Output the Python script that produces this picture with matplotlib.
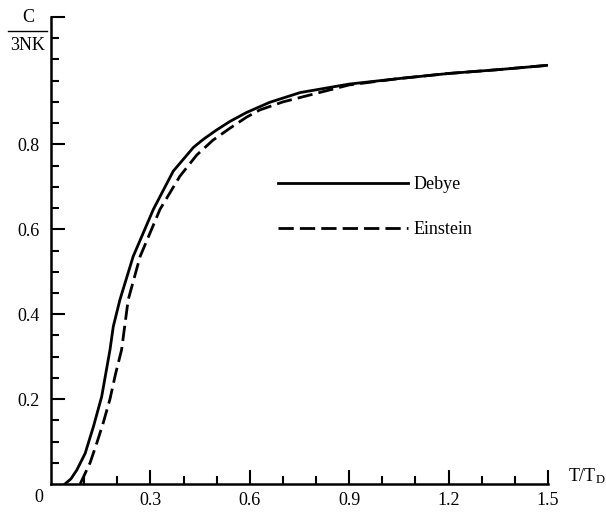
import matplotlib
matplotlib.use("Agg")
import matplotlib.pyplot as plt
from matplotlib.lines import Line2D
import numpy as np

plt.rcParams['font.family'] = ['Liberation Serif', 'DejaVu Serif']
plt.rcParams['mathtext.fontset'] = 'stix'

# Data
debye_t = [0.042, 0.06, 0.078, 0.103, 0.128, 0.153, 0.178, 0.188, 0.208, 0.248,
           0.309, 0.369, 0.43, 0.46, 0.5, 0.54, 0.59, 0.66, 0.752, 0.9, 1.05, 1.2, 1.35, 1.496]
debye_c = [0.0, 0.012, 0.033, 0.072, 0.135, 0.206, 0.316, 0.371, 0.434, 0.536,
           0.647, 0.737, 0.793, 0.812, 0.834, 0.854, 0.875, 0.899, 0.922, 0.942, 0.955, 0.967, 0.976, 0.986]

einstein_t = [0.088, 0.1, 0.118, 0.138, 0.158, 0.178, 0.195, 0.213, 0.233, 0.269,
              0.329, 0.389, 0.44, 0.489, 0.54, 0.59, 0.63, 0.70, 0.8, 0.9, 1.05, 1.2, 1.35, 1.496]
einstein_c = [0.0, 0.02, 0.05, 0.096, 0.145, 0.2, 0.26, 0.316, 0.434, 0.536,
              0.647, 0.725, 0.775, 0.81, 0.838, 0.864, 0.881, 0.9, 0.92, 0.94, 0.955, 0.967, 0.976, 0.986]

xticks_major = [0.3, 0.6, 0.9, 1.2, 1.5]
xtick_labels = ['0.3', '0.6', '0.9', '1.2', '1.5']
yticks_major = [0.2, 0.4, 0.6, 0.8, 1.1]
ytick_labels = ['0.2', '0.4', '0.6', '0.8', '']

W, H = 606, 512
fig = plt.figure(figsize=(W / 100, H / 100), dpi=100)
ax = fig.add_axes([51 / W, 1 - 484 / H, (548 - 51) / W, (484 - 17) / H])

ax.plot(debye_t, debye_c, color='black', lw=2.0, label='Debye')
ax.plot(einstein_t, einstein_c, color='black', lw=2.0, dashes=(5.5, 2.2), label='Einstein')

ax.set_xlim(0, 1.5)
ax.set_ylim(0, 1.1)
for s in ['top', 'right']:
    ax.spines[s].set_visible(False)
for s in ['left', 'bottom']:
    ax.spines[s].set_linewidth(1.8)

ax.set_xticks(xticks_major)
ax.set_xticklabels(xtick_labels)
ax.set_xticks([0.1, 0.2, 0.4, 0.5, 0.7, 0.8, 1.0, 1.1, 1.3, 1.4], minor=True)
ax.set_yticks(yticks_major)
ax.set_yticklabels(ytick_labels)
ax.set_yticks([0.05, 0.1, 0.15, 0.25, 0.3, 0.35, 0.45, 0.5, 0.55, 0.65, 0.7, 0.75,
               0.85, 0.9, 0.95, 1.0, 1.05], minor=True)
ax.tick_params(axis='both', which='major', direction='in', length=10, width=1.5, labelsize=13)
ax.tick_params(axis='both', which='minor', direction='in', length=6, width=1.5)
ax.tick_params(axis='x', which='major', pad=6)
ax.tick_params(axis='y', which='major', pad=8)

# origin label
fig.text(39 / W, 1 - 498 / H, '0', ha='center', va='center', fontsize=13)
# x label
fig.text(568 / W, 1 - 476 / H, r'T/T$_\mathregular{D}$', ha='left', va='center', fontsize=13)
# y label as fraction
fig.text(28 / W, 1 - 17 / H, 'C', ha='center', va='center', fontsize=13)
fig.text(28 / W, 1 - 45 / H, '3NK', ha='center', va='center', fontsize=13)
fig.add_artist(Line2D([8 / W, 47 / W], [1 - 31 / H, 1 - 31 / H], color='black', lw=1.0))

leg = ax.legend(loc='center left', bbox_to_anchor=(278 / W, 1 - 207 / H),
                bbox_transform=fig.transFigure, frameon=False, fontsize=13,
                handlelength=7.2, handletextpad=0.3, labelspacing=1.55,
                borderpad=0, borderaxespad=0)

fig.savefig('out.png', dpi=100)
